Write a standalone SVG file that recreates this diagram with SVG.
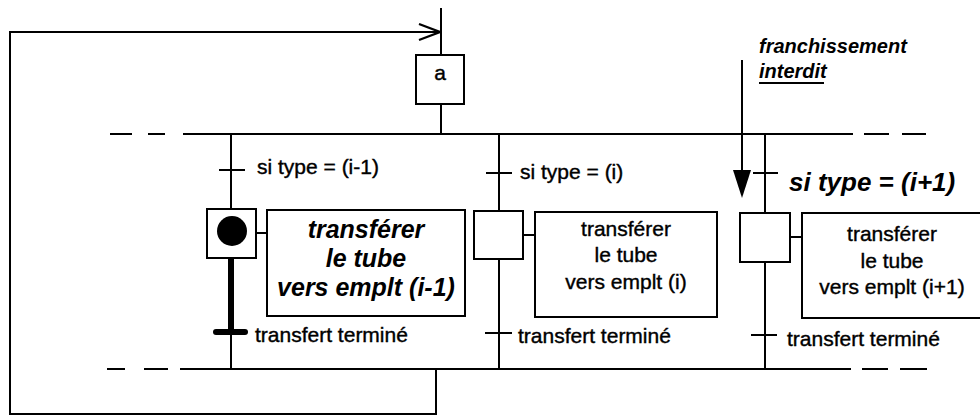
<svg xmlns="http://www.w3.org/2000/svg" width="980" height="417" viewBox="0 0 980 417">
<style>
.ln{stroke:#000;stroke-width:2;fill:none}
.bx{stroke:#000;stroke-width:2;fill:#fff}
.t{font-family:"Liberation Sans",Arial,sans-serif;font-size:21px;fill:#000;stroke:#000;stroke-width:0.4}
.bi{font-family:"Liberation Sans",Arial,sans-serif;font-weight:bold;font-style:italic;fill:#000}
.c{text-anchor:middle}
</style>
<defs>
<marker id="open" markerWidth="24" markerHeight="20" refX="22" refY="9" orient="auto" markerUnits="userSpaceOnUse">
<path d="M1,1 L22,9 L1,17" fill="none" stroke="#000" stroke-width="2.2"/>
</marker>
</defs>
<rect width="980" height="417" fill="#fff"/>
<g id="connectors">
<path class="ln" d="M436,369 V414 H10 V32 H440" marker-end="url(#open)"/>
<line class="ln" x1="441" y1="8" x2="441" y2="55"/>
<line class="ln" x1="441" y1="104" x2="441" y2="134"/>
<line class="ln" x1="183" y1="134" x2="853" y2="134"/>
<path class="ln" d="M110,134 H132 M148,134 H165 M864,134 H889 M902,134 H926"/>
<line class="ln" x1="180" y1="369" x2="851" y2="369"/>
<path class="ln" d="M107,369 H125 M144,369 H168 M862,369 H888 M900,369 H927"/>
<line class="ln" x1="231" y1="134" x2="231" y2="209"/>
<line class="ln" x1="219" y1="170" x2="245" y2="170"/>
<line x1="231" y1="258" x2="231" y2="332" stroke="#000" stroke-width="6"/>
<line x1="216" y1="332" x2="245" y2="332" stroke="#000" stroke-width="6" stroke-linecap="round"/>
<line class="ln" x1="231" y1="332" x2="231" y2="369"/>
<line class="ln" x1="256" y1="233" x2="267" y2="233"/>
<line class="ln" x1="499" y1="134" x2="499" y2="211"/>
<line class="ln" x1="486" y1="173" x2="512" y2="173"/>
<line class="ln" x1="499" y1="259" x2="499" y2="369"/>
<line class="ln" x1="485" y1="333" x2="512" y2="333"/>
<line class="ln" x1="523" y1="235" x2="535" y2="235"/>
<line class="ln" x1="765" y1="134" x2="765" y2="213"/>
<line class="ln" x1="753" y1="173" x2="778" y2="173"/>
<line class="ln" x1="765" y1="262" x2="765" y2="369"/>
<line class="ln" x1="751" y1="335" x2="777" y2="335"/>
<line class="ln" x1="790" y1="237" x2="802" y2="237"/>
<line class="ln" x1="742" y1="60" x2="742" y2="172" stroke-width="2.5"/>
<path d="M733,170 L751,170 L742,198 Z" fill="#000"/>
</g>
<g id="step-a">
<rect class="bx" x="416" y="55" width="48" height="49"/>
<text class="t c" x="440" y="80">a</text>
</g>
<g id="note-interdit">
<text class="bi" font-size="20" x="759" y="53">franchissement</text>
<text class="bi" font-size="20" x="759" y="78">interdit</text>
<line class="ln" x1="759" y1="83" x2="824" y2="83" stroke-width="1.5"/>
</g>
<g id="transition-1">
<text class="t" x="257" y="174">si type = (i-1)</text>
</g>
<g id="step-1">
<rect class="bx" x="207" y="209" width="49" height="49"/>
<circle cx="232" cy="231" r="15" fill="#000"/>
</g>
<g id="action-1">
<rect class="bx" x="267" y="210" width="198" height="106"/>
<text class="bi c" font-size="25" x="366" y="238">transférer</text>
<text class="bi c" font-size="25" x="366" y="267">le tube</text>
<text class="bi c" font-size="25" x="366" y="296">vers emplt (i-1)</text>
</g>
<g id="transition-1b">
<text class="t" x="255" y="342">transfert terminé</text>
</g>
<g id="transition-2">
<text class="t" x="520" y="179">si type = (i)</text>
</g>
<g id="step-2">
<rect class="bx" x="474" y="211" width="49" height="48"/>
</g>
<g id="action-2">
<rect class="bx" x="535" y="212" width="182" height="105"/>
<text class="t c" x="626" y="236">transférer</text>
<text class="t c" x="626" y="262">le tube</text>
<text class="t c" x="626" y="289">vers emplt (i)</text>
</g>
<g id="transition-2b">
<text class="t" x="518" y="343">transfert terminé</text>
</g>
<g id="transition-3">
<text class="bi" font-size="26" x="789" y="191">si type = (i+1)</text>
</g>
<g id="step-3">
<rect class="bx" x="740" y="213" width="50" height="49"/>
</g>
<g id="action-3">
<rect class="bx" x="802" y="213" width="185" height="105"/>
<text class="t c" x="892" y="241">transférer</text>
<text class="t c" x="892" y="268">le tube</text>
<text class="t c" x="892" y="294">vers emplt (i+1)</text>
</g>
<g id="transition-3b">
<text class="t" x="787" y="346">transfert terminé</text>
</g>
</svg>
